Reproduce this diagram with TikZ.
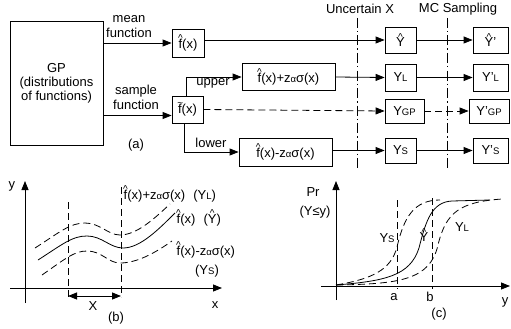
\documentclass[tikz,border=0pt]{standalone}
\usepackage{fontspec}
\setmainfont{Liberation Sans}
\usetikzlibrary{arrows.meta}
\newcommand{\acc}[3]{\leavevmode\makebox[0pt][l]{\kern#1\raisebox{#2}{\fontsize{10}{10}\selectfont #3}}}
\newcommand{\fhat}{\acc{-0.5pt}{6.6pt}{\textasciicircum}f}
\newcommand{\ftil}{\acc{-0.8pt}{7.2pt}{\textasciitilde}f}
\newcommand{\Yhat}{\acc{2pt}{6.6pt}{\textasciicircum}Y}
\newcommand{\lo}[1]{{\fontsize{9.5}{10}\selectfont #1}}
\newcommand{\zas}{z\lo{α}σ}
\begin{document}
\begin{tikzpicture}[
    x=1pt, y=-1pt, line width=0.8pt,
    >={Triangle[length=9pt,width=7pt]},
    every node/.style={font=\fontsize{13}{15}\selectfont},
    box/.style={draw, inner sep=0pt, minimum height=27pt},
    dashline/.style={dash pattern=on 7pt off 4pt},
    dashdot/.style={dash pattern=on 10pt off 3pt on 1.5pt off 3pt}
]
\useasboundingbox (0,0) rectangle (511,329);

% (a)
\node[box, minimum width=93pt, minimum height=124pt, align=center,
      font=\fontsize{13}{14}\selectfont] (gp) at (56.5,83) {GP\\(distributions\\of functions)};
\node[box, minimum width=32pt, minimum height=28pt] (fhat)  at (188,43)    {\fhat(x)};
\node[box, minimum width=31pt] (fsamp) at (187.5,109.5) {\ftil(x)};
\node[box, minimum width=93pt] (upbox)  at (288.5,77) {\fhat(x)+\zas(x)};
\node[box, minimum width=93pt, minimum height=28pt] (lowbox) at (285.5,152) {\fhat(x)-\zas(x)};

\node[box, minimum width=31pt, minimum height=26pt] (yhat) at (400.5,40)   {\Yhat};
\node[box, minimum width=31pt]                      (yl)   at (400.5,77.5) {Y\lo{L}};
\node[box, minimum width=39pt, minimum height=24pt] (ygp)  at (404.5,111)  {Y\lo{GP}};
\node[box, minimum width=31pt, minimum height=25pt] (ys)   at (400.5,150.5){Y\lo{S}};
\node[box, minimum width=35pt, minimum height=26pt] (yhat2) at (490.5,40)   {\Yhat'};
\node[box, minimum width=35pt]                      (yl2)   at (490.5,77.5) {Y'\lo{L}};
\node[box, minimum width=40pt, minimum height=24pt] (ygp2)  at (489,111)    {Y'\lo{GP}};
\node[box, minimum width=35pt, minimum height=25pt] (ys2)   at (490.5,150.5){Y'\lo{S}};

\node[align=center] (meanlbl) at (129,27) {mean\\function};
\node[align=center] (samplbl) at (136,97) {sample\\function};
\node (uplbl)  at (213,83)    {upper};
\node (lowlbl) at (211,142.5) {lower};
\node (alabel) at (136,145) {(a)};
\node (uncx)   at (360,9)   {Uncertain X};
\node (mcs)    at (458,9)   {MC Sampling};

\coordinate (sin) at ([yshift=-6pt]fsamp.west);
\draw[->] (gp.east |- fhat) -- (fhat.west);
\draw[->] (sin -| gp.east) -- (sin);
\draw[->] ([xshift=-1.5pt]fsamp.north) |- (upbox.west);
\draw[->] ([xshift=-3.5pt]fsamp.south) |- (lowbox.west);

\draw[->] (fhat.east |- yhat) -- (yhat.west);
\draw[->] (yhat.east) -- (yhat2.west);
\draw[->] (upbox.east) -- (yl.west);
\draw[->] (yl.east) -- (yl2.west);
\draw[->, dashline] (fsamp.east) -- (ygp.west);
\draw[->, dashline] (ygp.east) -- (ygp2.west);
\draw[->] (lowbox.east |- ys) -- (ys.west);
\draw[->] (ys.east) -- (ys2.west);

\draw[dashdot] (357,18) -- (357,168);
\draw[dashdot] (447,18) -- (447,168);

% (b)
\draw[->] (10,288) -- (222,288);
\draw[->] (25,303) -- (25,181);
\node (ylbl) at (12,186)  {y};
\node (xlbl) at (215,305) {x};
\draw[dashline] (68,202) -- (68,297);
\draw[dashline] (121,187) -- (121,297);
\coordinate (xa) at (68,296);
\coordinate (xb) at (121,296);
\draw[<->] (xa) -- (xb);
\node (xrng)   at (93,306)  {X};
\node (blabel) at (116,318) {(b)};

\draw[dashline] (35,248) .. controls (60,232) and (70,223) .. (85,223)
    .. controls (100,223) and (108,235) .. (120,235)
    .. controls (137,235) and (155,218) .. (170,204);
\draw (38,260) .. controls (63,244) and (72,236) .. (87,236)
    .. controls (102,236) and (110,248) .. (123,248)
    .. controls (140,248) and (158,230) .. (175,213);
\draw[dashline] (42,275) .. controls (65,259) and (74,251) .. (87,251)
    .. controls (102,251) and (108,263) .. (120,263)
    .. controls (137,263) and (155,253) .. (172,241);

\node[anchor=west] (uplab)  at (120,194) {\fhat(x)+\zas(x)\hspace{8pt}(Y\lo{L})};
\node[anchor=west] (midlab) at (173,218) {\fhat(x)\hspace{8pt}(\Yhat)};
\node[anchor=west] (lowlab) at (173,250) {\fhat(x)-\zas(x)};
\node (yslab) at (207,271) {(Y\lo{S})};

% (c)
\draw[->] (321,286) -- (510,286);
\draw[->] (336,300) -- (336,181);
\node (prlbl) at (313,192) {Pr};
\node (prylbl) at (315,212) {(Y≤y)};
\draw[dashline] (397,200) -- (397,289);
\draw[dashline] (432,198) -- (432,289);
\node (alab) at (394,297) {a};
\node (blab) at (430,297) {b};
\node (yaxl) at (505,302) {y};
\node (clabel) at (439,314) {(c)};

\draw[dashline] (336,285) .. controls (372,279) and (391,270) .. (397,247)
    .. controls (404,217) and (414,200) .. (440,200);
\draw (336,285) .. controls (385,281) and (410,276) .. (419,248)
    .. controls (426,220) and (432,202) .. (452,201) -- (490,200);
\draw[dashline] (336,285) .. controls (400,284) and (430,280) .. (438,245)
    .. controls (446,212) and (460,202) .. (502,199);

\node (yscurve) at (387,238) {Y\lo{S}};
\node (yhcurve) at (424,235) {\Yhat};
\node (ylcurve) at (462,227) {Y\lo{L}};

\end{tikzpicture}
\end{document}
